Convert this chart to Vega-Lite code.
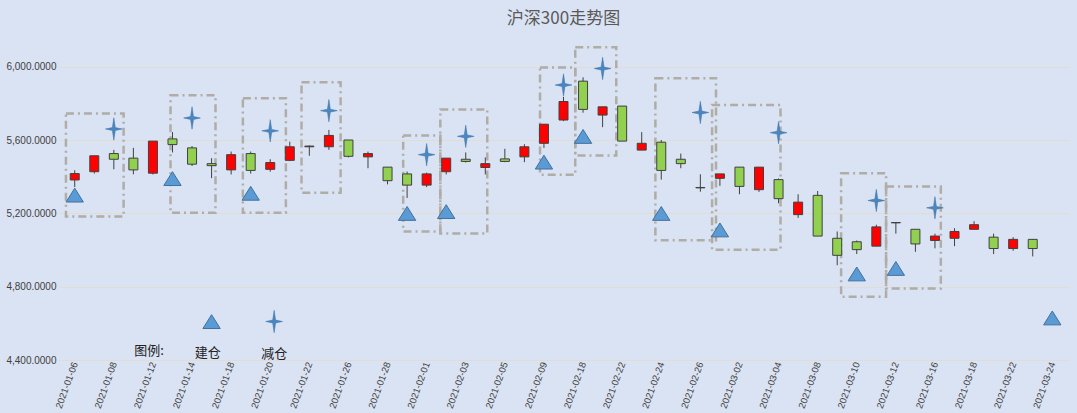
{
"$schema":"https://vega.github.io/schema/vega-lite/v6.json",
"width":1077,"height":413,
"autosize":{"type":"fit","contains":"padding"},
"background":"#dae3f3",
"padding":{"left":5,"right":8,"top":5,"bottom":3},
"title":{"text":"沪深300走势图","fontSize":17,"color":"#595959","font":"Noto Sans CJK SC","fontWeight":"normal","offset":2},
"config":{"view":{"stroke":null},"axis":{"labelFont":"Liberation Sans","labelColor":"#404040","labelFontSize":10}},
"datasets":{
"k":[
{"i":0,"o":5382,"c":5417,"h":5435,"l":5343},
{"i":1,"o":5427,"c":5514,"h":5514,"l":5417},
{"i":2,"o":5526,"c":5495,"h":5546,"l":5440},
{"i":3,"o":5501,"c":5437,"h":5557,"l":5413},
{"i":4,"o":5419,"c":5594,"h":5594,"l":5412},
{"i":5,"o":5606,"c":5575,"h":5643,"l":5532},
{"i":6,"o":5557,"c":5468,"h":5567,"l":5458},
{"i":7,"o":5471,"c":5460,"h":5501,"l":5392},
{"i":8,"o":5437,"c":5520,"h":5537,"l":5412},
{"i":9,"o":5526,"c":5434,"h":5537,"l":5417},
{"i":10,"o":5440,"c":5477,"h":5495,"l":5427},
{"i":11,"o":5489,"c":5563,"h":5591,"l":5485},
{"i":12,"o":5563,"c":5567,"h":5570,"l":5514},
{"i":13,"o":5563,"c":5625,"h":5655,"l":5546},
{"i":14,"o":5600,"c":5511,"h":5600,"l":5505},
{"i":15,"o":5508,"c":5526,"h":5537,"l":5446},
{"i":16,"o":5452,"c":5378,"h":5452,"l":5358},
{"i":17,"o":5415,"c":5354,"h":5428,"l":5284},
{"i":18,"o":5354,"c":5415,"h":5422,"l":5343},
{"i":19,"o":5427,"c":5501,"h":5501,"l":5412},
{"i":20,"o":5495,"c":5483,"h":5532,"l":5477},
{"i":21,"o":5450,"c":5471,"h":5505,"l":5412},
{"i":22,"o":5497,"c":5483,"h":5552,"l":5479},
{"i":23,"o":5508,"c":5563,"h":5577,"l":5479},
{"i":24,"o":5582,"c":5686,"h":5686,"l":5557},
{"i":25,"o":5709,"c":5810,"h":5835,"l":5703},
{"i":26,"o":5921,"c":5767,"h":5942,"l":5749},
{"i":27,"o":5736,"c":5781,"h":5781,"l":5670},
{"i":28,"o":5785,"c":5594,"h":5785,"l":5594},
{"i":29,"o":5545,"c":5582,"h":5643,"l":5545},
{"i":30,"o":5588,"c":5434,"h":5600,"l":5384},
{"i":31,"o":5495,"c":5471,"h":5526,"l":5446},
{"i":32,"o":5341,"c":5339,"h":5413,"l":5318},
{"i":33,"o":5391,"c":5415,"h":5415,"l":5350},
{"i":34,"o":5452,"c":5347,"h":5452,"l":5304},
{"i":35,"o":5329,"c":5452,"h":5452,"l":5317},
{"i":36,"o":5384,"c":5280,"h":5390,"l":5255},
{"i":37,"o":5193,"c":5261,"h":5304,"l":5175},
{"i":38,"o":5298,"c":5076,"h":5322,"l":5076},
{"i":39,"o":5064,"c":4971,"h":5101,"l":4917},
{"i":40,"o":5045,"c":5002,"h":5052,"l":4978},
{"i":41,"o":5021,"c":5126,"h":5138,"l":5021},
{"i":42,"o":5150,"c":5148,"h":5150,"l":5089},
{"i":43,"o":5113,"c":5033,"h":5113,"l":4990},
{"i":44,"o":5052,"c":5076,"h":5089,"l":5009},
{"i":45,"o":5064,"c":5101,"h":5119,"l":5021},
{"i":46,"o":5113,"c":5138,"h":5157,"l":5113},
{"i":47,"o":5070,"c":5008,"h":5089,"l":4978},
{"i":48,"o":5008,"c":5058,"h":5070,"l":4996},
{"i":49,"o":5058,"c":5008,"h":5058,"l":4965}
],
"tri":[
{"i":0,"v":5290},{"i":5,"v":5380},{"i":9,"v":5300},{"i":17,"v":5190},{"i":19,"v":5200},{"i":24,"v":5470},{"i":26,"v":5610},{"i":30,"v":5190},{"i":33,"v":5100},{"i":40,"v":4860},{"i":42,"v":4890},{"i":50,"v":4620},{"i":7,"v":4600}
],
"star":[
{"i":2,"v":5660},{"i":6,"v":5720},{"i":10,"v":5650},{"i":13,"v":5760},{"i":18,"v":5520},{"i":20,"v":5620},{"i":25,"v":5900},{"i":27,"v":5990},{"i":32,"v":5750},{"i":36,"v":5640},{"i":41,"v":5270},{"i":44,"v":5230},{"i":10.2,"v":4610}
],
"box":[
{"a":-0.45,"b":2.5,"t":5745,"u":5183},
{"a":4.9,"b":7.2,"t":5844,"u":5203},
{"a":8.6,"b":10.8,"t":5828,"u":5203},
{"a":11.6,"b":13.6,"t":5915,"u":5312},
{"a":16.8,"b":18.7,"t":5625,"u":5101},
{"a":18.7,"b":21.1,"t":5767,"u":5090},
{"a":23.8,"b":25.6,"t":5995,"u":5410},
{"a":25.6,"b":27.7,"t":6106,"u":5516},
{"a":29.7,"b":32.8,"t":5937,"u":5053},
{"a":32.6,"b":36.1,"t":5791,"u":5002},
{"a":39.2,"b":41.5,"t":5419,"u":4745},
{"a":41.5,"b":44.3,"t":5347,"u":4790}
],
"txt":[
{"i":3.8,"v":4450,"s":"图例:"},{"i":6.8,"v":4440,"s":"建仓"},{"i":10.2,"v":4435,"s":"减仓"}
]
},
"layer":[
{"data":{"name":"box"},"mark":{"type":"rect","fill":null,"stroke":"#b0aca6","strokeWidth":2.5,"strokeDash":[8,4,2,4]},
"encoding":{"x":{"field":"a","type":"quantitative","scale":{"domain":[-0.6,50.6],"nice":false,"zero":false},
"axis":{"values":[0,1,2,3,4,5,6,7,8,9,10,11,12,13,14,15,16,17,18,19,20,21,22,23,24,25,26,27,28,29,30,31,32,33,34,35,36,37,38,39,40,41,42,43,44,45,46,47,48,49,50],"labelAngle":-70,"labelOverlap":false,"labelFontSize":9.5,"grid":false,"ticks":false,"domain":false,"title":null,
"labelExpr":"['2021-01-06','2021-01-07','2021-01-08','2021-01-11','2021-01-12','2021-01-13','2021-01-14','2021-01-15','2021-01-18','2021-01-19','2021-01-20','2021-01-21','2021-01-22','2021-01-25','2021-01-26','2021-01-27','2021-01-28','2021-01-29','2021-02-01','2021-02-02','2021-02-03','2021-02-04','2021-02-05','2021-02-08','2021-02-09','2021-02-10','2021-02-18','2021-02-19','2021-02-22','2021-02-23','2021-02-24','2021-02-25','2021-02-26','2021-03-01','2021-03-02','2021-03-03','2021-03-04','2021-03-05','2021-03-08','2021-03-09','2021-03-10','2021-03-11','2021-03-12','2021-03-15','2021-03-16','2021-03-17','2021-03-18','2021-03-19','2021-03-22','2021-03-23','2021-03-24'][datum.value]"}},
"x2":{"field":"b"},
"y":{"field":"t","type":"quantitative","scale":{"domain":[4400,6200],"nice":false,"zero":false},
"axis":{"values":[4400,4600,4800,5000,5200,5400,5600,5800,6000,6200],"labelOverlap":false,"format":",.4f","gridColor":"#e3dcd2","ticks":false,"domain":false,"title":null}},
"y2":{"field":"u"}}},
{"data":{"name":"k"},"mark":{"type":"rule","color":"#404040"},
"encoding":{"x":{"field":"i","type":"quantitative"},"y":{"field":"l","type":"quantitative"},"y2":{"field":"h"}}},
{"data":{"name":"k"},"mark":{"type":"bar","size":9,"stroke":"#404040","strokeWidth":1},
"encoding":{"x":{"field":"i","type":"quantitative"},"y":{"field":"o","type":"quantitative"},"y2":{"field":"c"},
"color":{"condition":{"test":"datum.c>datum.o","value":"#ff0000"},"value":"#92d050"}}},
{"data":{"name":"tri"},"mark":{"type":"point","shape":"M-1,0.6 L0,-1 L1,0.6 Z","filled":true,"size":300,"fill":"#5b9bd5","stroke":"#41719c","strokeWidth":1,"opacity":1},
"encoding":{"x":{"field":"i","type":"quantitative"},"y":{"field":"v","type":"quantitative"}}},
{"data":{"name":"star"},"mark":{"type":"point","shape":"M0,-1 L0.13,-0.13 L0.75,0 L0.13,0.13 L0,1 L-0.13,0.13 L-0.75,0 L-0.13,-0.13 Z","filled":true,"size":500,"fill":"#4a86c0","stroke":"#3a6fa5","strokeWidth":0.5,"opacity":1},
"encoding":{"x":{"field":"i","type":"quantitative"},"y":{"field":"v","type":"quantitative"}}},
{"data":{"name":"txt"},"mark":{"type":"text","font":"Noto Sans CJK SC","fontSize":13,"color":"#222"},
"encoding":{"x":{"field":"i","type":"quantitative"},"y":{"field":"v","type":"quantitative"},"text":{"field":"s"}}}
]
}
